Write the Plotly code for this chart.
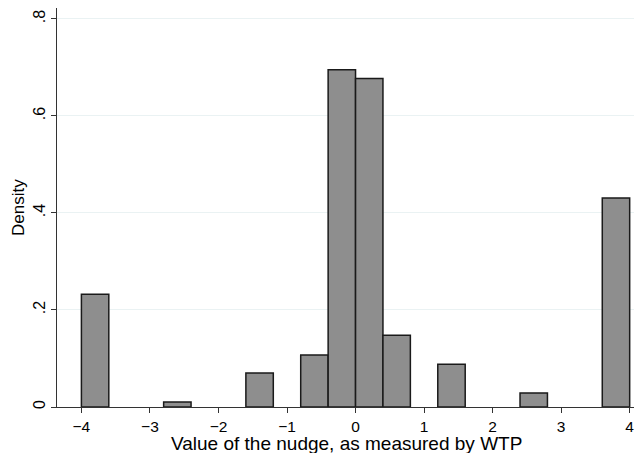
import plotly.graph_objects as go

# Histogram bins (centres, width 0.4) and density values
bin_centers = [-3.8, -2.6, -1.4, -0.6, -0.2, 0.2, 0.6, 1.4, 2.6, 3.8]
densities = [0.2325, 0.0103, 0.0703, 0.107, 0.695, 0.677, 0.148, 0.088, 0.029, 0.431]
bin_width = 0.4

x_tickvals = [-4, -3, -2, -1, 0, 1, 2, 3, 4]
x_ticktext = ["\u22124", "\u22123", "\u22122", "\u22121", "0", "1", "2", "3", "4"]
y_tickvals = [0, 0.2, 0.4, 0.6, 0.8]
y_ticktext = ["0", ".2", ".4", ".6", ".8"]

x_title = "Value of the nudge, as measured by WTP"
y_title = "Density"

W, H = 635, 453
ML, MR, MT, MB = 57, 1, 8, 46
plot_h = H - MT - MB
plot_w = W - ML - MR

fig = go.Figure()
fig.add_trace(go.Bar(
    x=bin_centers,
    y=densities,
    width=[bin_width] * len(bin_centers),
    marker=dict(color="#8e8e8e", line=dict(color="#1a1a1a", width=1.5)),
    showlegend=False,
    hoverinfo="skip",
))

font_family = "Liberation Sans, Arial, Helvetica, sans-serif"

fig.update_layout(
    width=W,
    height=H,
    margin=dict(l=ML, r=MR, t=MT, b=MB),
    paper_bgcolor="white",
    plot_bgcolor="white",
    font=dict(family=font_family, color="black"),
    bargap=0,
    xaxis=dict(
        range=[-4.356, 4.063],
        tickvals=x_tickvals,
        ticktext=x_ticktext,
        tickfont=dict(size=15.5),
        ticks="outside",
        ticklen=5,
        tickcolor="#333333",
        showline=True,
        linecolor="#333333",
        linewidth=1,
        showgrid=False,
        zeroline=False,
        automargin=False,
    ),
    yaxis=dict(
        range=[0, 0.8225],
        tickvals=y_tickvals,
        ticktext=y_ticktext,
        tickangle=-90,
        tickfont=dict(size=16),
        ticks="outside",
        ticklen=5,
        tickcolor="#333333",
        showline=True,
        linecolor="#333333",
        linewidth=1,
        showgrid=True,
        gridcolor="#eaf2f3",
        gridwidth=1,
        zeroline=False,
        automargin=False,
    ),
    annotations=[
        dict(
            text=x_title, xref="paper", yref="paper",
            x=(346 - ML) / plot_w, y=-(443 - (H - MB)) / plot_h,
            xanchor="center", yanchor="middle", showarrow=False,
            font=dict(size=19),
        ),
        dict(
            text=y_title, xref="paper", yref="paper",
            x=-(ML - 18) / plot_w, y=1 - (208 - MT) / plot_h,
            xanchor="center", yanchor="middle", showarrow=False,
            textangle=-90, font=dict(size=17),
        ),
    ],
)

fig.write_html(
    "out.html",
    config={"displayModeBar": False, "staticPlot": True},
    post_script="document.body.style.margin='0';document.body.style.overflow='hidden';",
)
